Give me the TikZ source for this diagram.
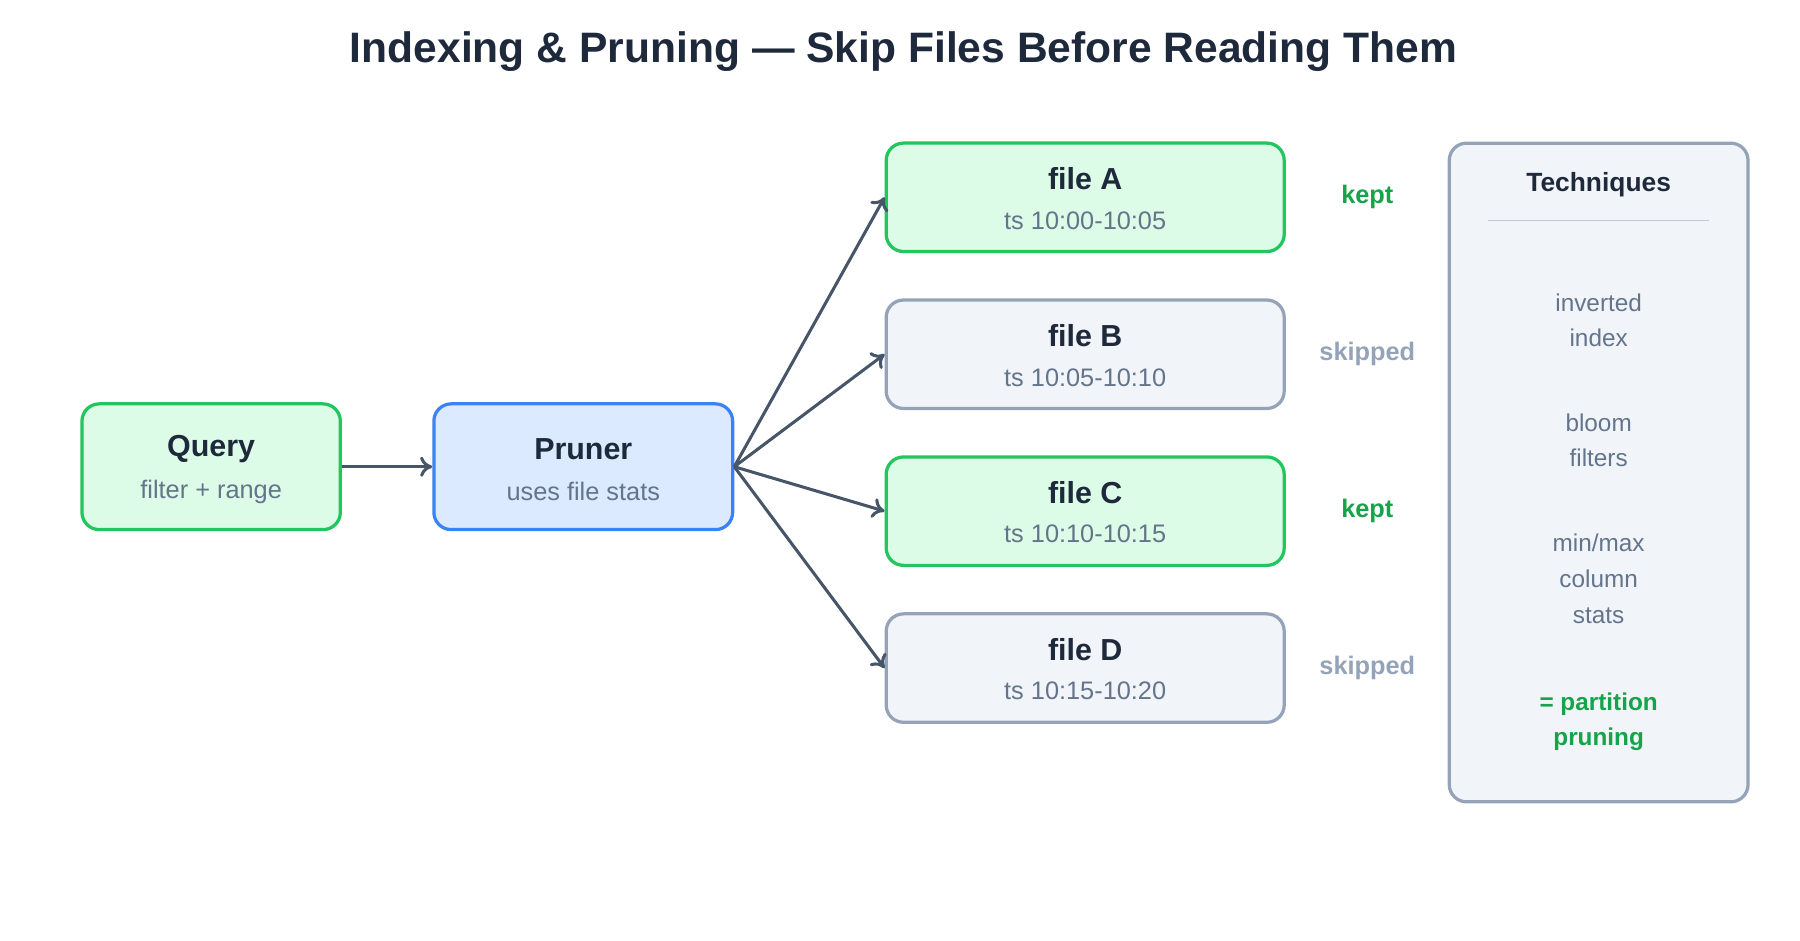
\documentclass[tikz,border=0pt]{standalone}
\usepackage{fontspec}
\setmainfont{Liberation Sans}
\usetikzlibrary{arrows.meta,positioning}
\definecolor{okline}{HTML}{22C55E}
\definecolor{okfill}{HTML}{DCFCE7}
\definecolor{blline}{HTML}{3B82F6}
\definecolor{blfill}{HTML}{DBEAFE}
\definecolor{grline}{HTML}{94A3B8}
\definecolor{grfill}{HTML}{F1F5F9}
\definecolor{ink}{HTML}{1E293B}
\definecolor{subink}{HTML}{64748B}
\definecolor{keptc}{HTML}{16A34A}
\definecolor{arrowc}{HTML}{475569}
\begin{document}
\begin{tikzpicture}[x=0.02cm,y=-0.02cm,
  box/.style={rounded corners=0.3cm,line width=1.6pt,minimum width=6.9cm,minimum height=1.88cm},
  okbox/.style={box,draw=okline,fill=okfill},
  skipbox/.style={box,draw=grline,fill=grfill},
  head/.style={font=\bfseries\fontsize{15}{18}\selectfont,text=ink},
  sub/.style={font=\fontsize{12.5}{15}\selectfont,text=subink},
  side/.style={font=\fontsize{12}{17.6}\selectfont,text=subink,align=center},
  flow/.style={-{To[length=6pt,width=10pt]},line width=1.5pt,draw=arrowc}]
\useasboundingbox (0,0) rectangle (1560,815);

\node[font=\bfseries\fontsize{21}{26}\selectfont,text=ink] (title) at (783,45) {Indexing \& Pruning — Skip Files Before Reading Them};

% query and pruner
\node[box,draw=okline,fill=okfill,minimum width=4.48cm,minimum height=2.18cm] (query) at (183,404.5) {};
\node[head] (queryh) at (183,389) {Query};
\node[sub] (querys) at (183,426) {filter + range};
\node[box,draw=blline,fill=blfill,minimum width=5.18cm,minimum height=2.18cm] (pruner) at (505.5,404.5) {};
\node[head] (prunerh) at (505.5,389) {Pruner};
\node[sub] (pruners) at (505.5,426) {uses file stats};

% files
\foreach \n/\y/\st/\ts in {A/171/okbox/10:00-10:05,B/307/skipbox/10:05-10:10,C/443/okbox/10:10-10:15,D/579/skipbox/10:15-10:20}{
  \node[\st] (file\n) at (940.5,\y) {};
  \node[head] at (940.5,\y-16) {file \n};
  \node[sub] at (940.5,\y+20) {ts \ts};
}
\node[font=\bfseries\fontsize{12.5}{15}\selectfont,text=keptc] (keptA) at (1185,171) {kept};
\node[font=\bfseries\fontsize{12.5}{15}\selectfont,text=grline] (skipB) at (1185,307) {skipped};
\node[font=\bfseries\fontsize{12.5}{15}\selectfont,text=keptc] (keptC) at (1185,443) {kept};
\node[font=\bfseries\fontsize{12.5}{15}\selectfont,text=grline] (skipD) at (1185,579) {skipped};

\draw[flow] (query.east) -- (pruner.west);
\foreach \n in {A,B,C,D}
  \draw[flow] (pruner.east) -- (file\n.west);

% techniques
\node[box,draw=grline,fill=grfill,minimum width=5.18cm,minimum height=11.42cm] (tech) at (1385.5,409.5) {};
\node[font=\bfseries\fontsize{13}{16}\selectfont,text=ink] (techh) at (1385.5,160) {Techniques};
\draw[grline!60,line width=0.8pt] (1290,191) -- (1481,191);
\node[side] (inv) at (1385.5,277.5) {inverted\\index};
\node[side] (bloom) at (1385.5,381.5) {bloom\\filters};
\node[side] (minmax) at (1385.5,501.5) {min/max\\column\\stats};
\node[side,font=\bfseries\fontsize{12}{17.6}\selectfont,text=keptc] (part) at (1385.5,625.5) {= partition\\pruning};
\end{tikzpicture}
\end{document}
